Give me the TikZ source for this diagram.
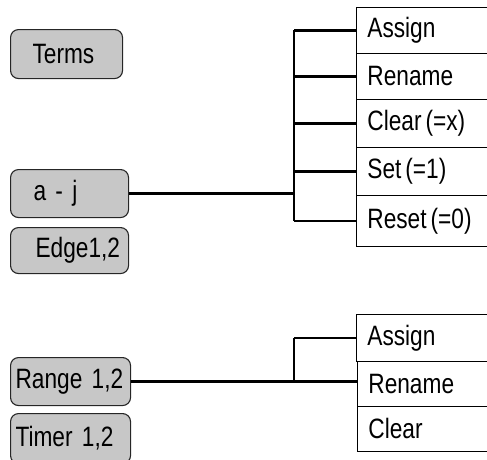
\documentclass[tikz,border=0pt]{standalone}
\usepackage{fontspec}
\setmainfont{Liberation Sans}[FakeStretch=0.81]
\newcommand\mylblfont{\fontsize{28}{30}\selectfont}
\newcommand\tightsp{\spaceskip=4pt\relax}
\tikzset{
  lbl/.style={font=\mylblfont},
  term/.style={lbl, draw=black!85, line width=1.1pt, rounded corners=8pt,
    fill=black!22, anchor=north west, align=left, inner ysep=0pt},
  cell/.style={lbl, draw=black, line width=0.8pt, anchor=north west,
    text width=120pt, inner xsep=11pt, inner ysep=0pt, align=left},
  wire/.style={line width=2.3pt}
}
\begin{document}
\begin{tikzpicture}[x=1pt,y=1pt]
\useasboundingbox (0,0) rectangle (487,-459);
\clip (0,0) rectangle (487,-459);
% left term boxes
\node[term, inner xsep=22pt, text width=68pt, minimum height=49pt] (terms) at (10,-29) {Terms};
\node[term, inner xsep=23pt, text width=72pt, minimum height=48pt] (aj) at (10,-169) {a - j};
\node[term, inner xsep=25pt, text width=68pt, minimum height=46pt] (edge) at (10,-227) {Edge1,2};
\node[term, inner xsep=5pt, text width=110pt, minimum height=48pt] (range) at (10,-357) {Range 1,2};
\node[term, inner xsep=5pt, text width=110pt, minimum height=50pt] (timer) at (10,-413) {Timer 1,2};
% upper cells
\node[cell, minimum height=46pt] (r1) at (356,-7) {Assign};
\node[cell, minimum height=46pt] (r2) at (356,-53) {Rename};
\node[cell, minimum height=48pt] (r3) at (356,-99) {\tightsp Clear (=x)};
\node[cell, minimum height=48pt] (r4) at (356,-147) {\tightsp Set (=1)};
\node[cell, minimum height=51pt] (r5) at (356,-195) {\tightsp Reset (=0)};
% lower cells
\node[cell, minimum height=47pt] (s1) at (356,-314) {Assign};
\node[cell, minimum height=45pt] (s2) at (357,-361) {Rename};
\node[cell, minimum height=45pt] (s3) at (357,-406) {Clear};
% upper bracket
\coordinate (b1) at (294,0);
\draw[wire] (aj.east) -- (aj.east -| b1);
\draw[wire] (r1.west -| b1) -- (r5.west -| b1);
\foreach \r in {r1,r2,r3,r4,r5} \draw[wire] (\r.west -| b1) -- (\r.west);
% lower bracket
\coordinate (b2) at (294,0);
\draw[wire] (range.east) -- (range.east -| s2.west);
\draw[wire] (s1.west -| b2) -- (range.east -| b2);
\draw[wire] (s1.west -| b2) -- (s1.west);
\end{tikzpicture}
\end{document}
